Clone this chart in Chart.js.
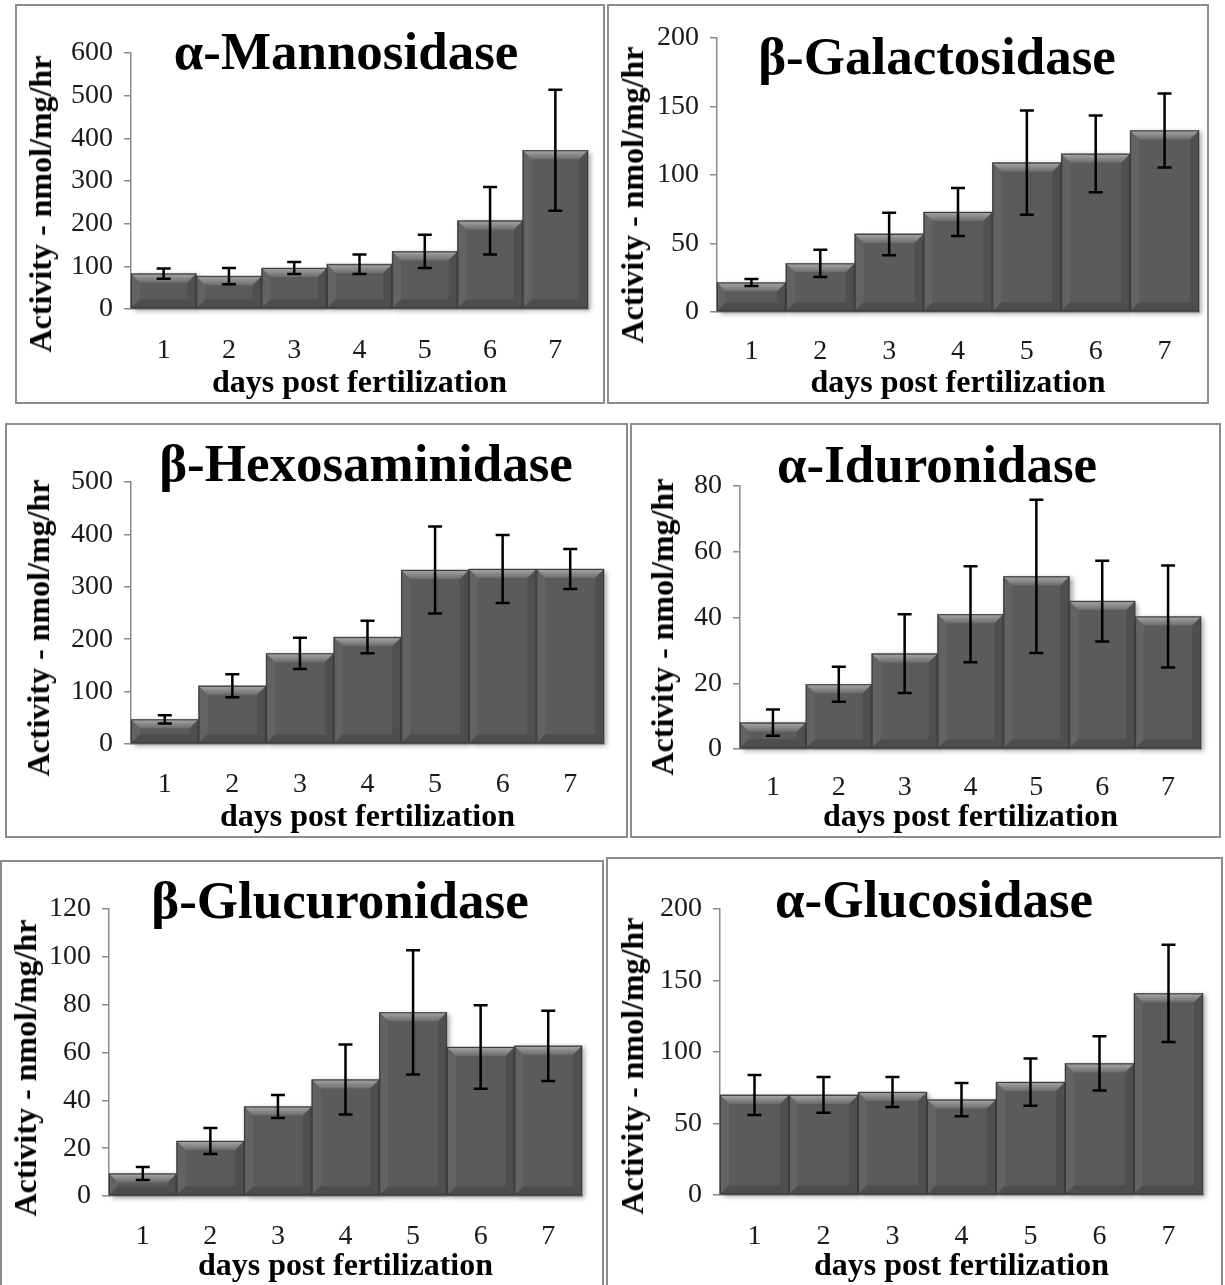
<!DOCTYPE html>
<html>
<head>
<meta charset="utf-8">
<script src="https://cdn.jsdelivr.net/npm/chart.js@4.4.1/dist/chart.umd.min.js"></script>
<style>
  body { margin: 0; background: #fff; }
  #page { position: relative; width: 1225px; height: 1285px; overflow: hidden; background: #fff;
          font-family: 'Liberation Serif', 'Times New Roman', serif; }
  .panel { position: absolute; border: 2px solid #8c8c8c; box-sizing: border-box; background: #fff; }
  .panel canvas { position: absolute; left: 0; top: 0; }
  .head { position: absolute; font-weight: bold; font-size: 53px; line-height: 53px; white-space: nowrap;
          transform: translate(-50%, -50%); color: #000; }
  .ytitle { position: absolute; font-weight: bold; font-size: 32px; line-height: 32px; white-space: nowrap;
            transform: translate(-50%, -50%) rotate(-90deg); color: #000; }
</style>
</head>
<body>
<div id="page"></div>
<script>
// days post fertilization
const days = ['1', '2', '3', '4', '5', '6', '7'];

// activity (nmol/mg/hr) and error bar half-widths
const mannosidase = [83, 77, 96, 105, 135, 207, 372];
const mannosidaseErr = [12, 19, 14, 23, 39, 79, 142];
const galactosidase = [21.5, 35.5, 57, 73, 109, 115.5, 132.5];
const galactosidaseErr = [2.5, 10, 15.5, 17.5, 38, 28, 27];
const hexosaminidase = [47, 111, 173, 204, 332, 334, 334];
const hexosaminidaseErr = [8, 22, 30, 31, 83, 65, 38];
const iduronidase = [8, 19.7, 29, 41, 52.5, 45, 40.3];
const iduronidaseErr = [4, 5.3, 12, 14.6, 23.3, 12.3, 15.5];
const glucuronidase = [9.4, 23, 37.4, 48.7, 76.8, 62.3, 62.8];
const glucuronidaseErr = [2.7, 5.4, 4.8, 14.6, 26, 17.5, 14.7];
const glucosidase = [70, 70, 72, 66.7, 79, 92, 141];
const glucosidaseErr = [14, 12.5, 10.5, 11.7, 16.5, 19, 34];

const charts = [
  { title: 'α-Mannosidase', values: mannosidase, errors: mannosidaseErr, max: 600, step: 100 },
  { title: 'β-Galactosidase', values: galactosidase, errors: galactosidaseErr, max: 200, step: 50 },
  { title: 'β-Hexosaminidase', values: hexosaminidase, errors: hexosaminidaseErr, max: 500, step: 100 },
  { title: 'α-Iduronidase', values: iduronidase, errors: iduronidaseErr, max: 80, step: 20 },
  { title: 'β-Glucuronidase', values: glucuronidase, errors: glucuronidaseErr, max: 120, step: 20 },
  { title: 'α-Glucosidase', values: glucosidase, errors: glucosidaseErr, max: 200, step: 50 }
];

// page placement: panel box [left, top, w, h], plot area [l, t, r, b], label gap, title and y-title centres
const layouts = [
  { box: [15, 4, 590, 400], area: [131, 53, 588, 309], gap: 42, head: [346, 51], ytitle: [40, 204] },
  { box: [607, 4, 602, 400], area: [717, 38, 1199, 312], gap: 40, head: [937, 56], ytitle: [632, 195] },
  { box: [5, 423, 623, 415], area: [131, 482, 604, 744], gap: 41, head: [366, 463], ytitle: [38, 628] },
  { box: [630, 423, 591, 415], area: [740, 486, 1201, 749], gap: 39, head: [937, 464], ytitle: [662, 627] },
  { box: [0, 860, 604, 440], area: [109, 909, 582, 1196], gap: 41, head: [340, 900], ytitle: [25, 1068] },
  { box: [606, 857, 617, 440], area: [720, 909, 1203, 1195], gap: 42, head: [934, 899], ytitle: [632, 1066] }
];

function quad(ctx, pts, fill) {
  ctx.beginPath();
  ctx.moveTo(pts[0][0], pts[0][1]);
  for (let i = 1; i < pts.length; i++) ctx.lineTo(pts[i][0], pts[i][1]);
  ctx.closePath();
  ctx.fillStyle = fill;
  ctx.fill();
}

// soft shadow + bevelled look of the bars
const bevelPlugin = {
  id: 'bevel',
  beforeDatasetsDraw(chart) {
    const ctx = chart.ctx;
    ctx.save();
    ctx.shadowColor = 'rgba(0,0,0,0.35)';
    ctx.shadowBlur = 5;
    ctx.shadowOffsetX = 3;
    ctx.shadowOffsetY = 2;
  },
  afterDatasetsDraw(chart) {
    const ctx = chart.ctx;
    ctx.restore();
    chart.getDatasetMeta(0).data.forEach(bar => {
      const l = bar.x - bar.width / 2, r = bar.x + bar.width / 2, t = bar.y, b = bar.base;
      const s = Math.min(9, (b - t) / 2);
      const g = ctx.createLinearGradient(0, t, 0, t + s);
      g.addColorStop(0, '#a8a8a8');
      g.addColorStop(1, '#6c6c6c');
      quad(ctx, [[l, t], [r, t], [r - s, t + s], [l + s, t + s]], g);
      quad(ctx, [[l, t], [l + s, t + s], [l + s, b - s], [l, b]], 'rgba(255,255,255,0.05)');
      quad(ctx, [[r, t], [r - s, t + s], [r - s, b - s], [r, b]], 'rgba(0,0,0,0.12)');
      quad(ctx, [[l, b], [l + s, b - s], [r - s, b - s], [r, b]], 'rgba(0,0,0,0.15)');
      ctx.strokeStyle = '#3a3a3a';
      ctx.lineWidth = 1;
      ctx.strokeRect(l + 0.5, t + 0.5, r - l - 1, b - t - 1);
    });
  }
};

const errorBarPlugin = {
  id: 'errorBars',
  afterDatasetsDraw(chart, args, opts) {
    const ctx = chart.ctx;
    const y = chart.scales.y;
    const values = chart.data.datasets[0].data;
    ctx.save();
    ctx.strokeStyle = '#000';
    ctx.lineWidth = 2.5;
    chart.getDatasetMeta(0).data.forEach((bar, i) => {
      const yt = y.getPixelForValue(values[i] + opts.errors[i]);
      const yb = y.getPixelForValue(values[i] - opts.errors[i]);
      ctx.beginPath();
      ctx.moveTo(bar.x, yt); ctx.lineTo(bar.x, yb);
      ctx.moveTo(bar.x - 7, yt); ctx.lineTo(bar.x + 7, yt);
      ctx.moveTo(bar.x - 7, yb); ctx.lineTo(bar.x + 7, yb);
      ctx.stroke();
    });
    ctx.restore();
  }
};

const page = document.getElementById('page');
const padBottom = 2;
const tickSize = 28;

charts.forEach((c, k) => {
  const L = layouts[k];
  const [bl, bt, bw, bh] = L.box;
  const ox = bl + 2, oy = bt + 2;
  const cw = bw - 4, ch = Math.min(bh - 4, 1285 - oy);
  const al = L.area[0] - ox, at = L.area[1] - oy, ar = L.area[2] - ox, ab = L.area[3] - oy;

  const panel = document.createElement('div');
  panel.className = 'panel';
  panel.style.left = bl + 'px';
  panel.style.top = bt + 'px';
  panel.style.width = bw + 'px';
  panel.style.height = bh + 'px';
  const canvas = document.createElement('canvas');
  canvas.width = cw;
  canvas.height = ch;
  canvas.style.width = cw + 'px';
  canvas.style.height = ch + 'px';
  panel.appendChild(canvas);
  page.appendChild(panel);

  const head = document.createElement('div');
  head.className = 'head';
  head.textContent = c.title;
  head.style.left = L.head[0] + 'px';
  head.style.top = L.head[1] + 'px';
  page.appendChild(head);

  const yt = document.createElement('div');
  yt.className = 'ytitle';
  yt.textContent = 'Activity -  nmol/mg/hr';
  yt.style.left = L.ytitle[0] + 'px';
  yt.style.top = L.ytitle[1] + 'px';
  page.appendChild(yt);

  new Chart(canvas.getContext('2d'), {
    type: 'bar',
    data: {
      labels: days,
      datasets: [{
        data: c.values,
        backgroundColor: '#5b5b5b',
        borderWidth: 0,
        barPercentage: 1,
        categoryPercentage: 1,
        clip: 8
      }]
    },
    options: {
      responsive: false,
      animation: false,
      layout: { padding: { top: at, right: cw - ar, bottom: padBottom, left: 0 } },
      plugins: {
        legend: { display: false },
        tooltip: { enabled: false },
        errorBars: { errors: c.errors }
      },
      scales: {
        x: {
          grid: { display: false, drawTicks: false },
          border: { color: '#8a8a8a', width: 1.5 },
          ticks: { color: '#1a1a1a', padding: L.gap - tickSize * 0.6, font: { family: 'Liberation Serif', size: tickSize } },
          title: {
            display: true,
            text: 'days post fertilization',
            color: '#000',
            padding: 0,
            font: { family: 'Liberation Serif', size: 32, weight: 'bold', lineHeight: 1 }
          },
          afterFit(scale) { scale.height = ch - ab - padBottom; }
        },
        y: {
          min: 0,
          max: c.max,
          grid: { drawOnChartArea: false, drawTicks: true, tickLength: 7, color: '#8a8a8a', lineWidth: 1.5 },
          border: { color: '#8a8a8a', width: 1.5 },
          ticks: { stepSize: c.step, color: '#1a1a1a', padding: 11, font: { family: 'Liberation Serif', size: tickSize } },
          afterFit(scale) { scale.width = al; }
        }
      }
    },
    plugins: [bevelPlugin, errorBarPlugin]
  });
});
</script>
</body>
</html>
